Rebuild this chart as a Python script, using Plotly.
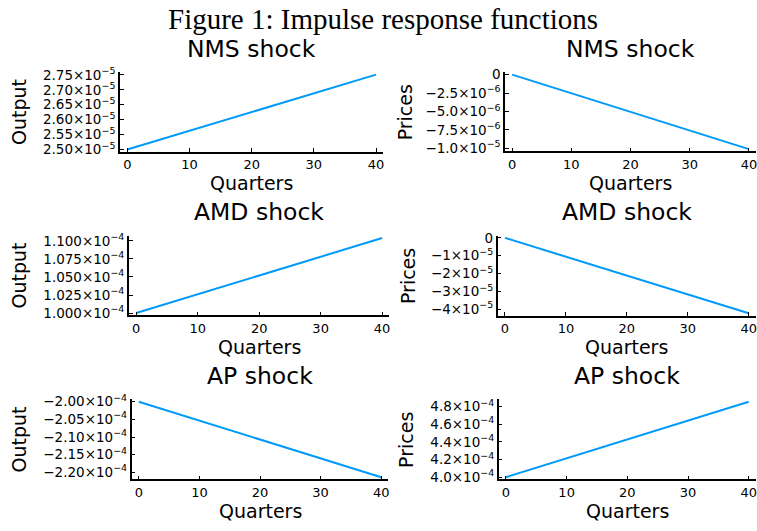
import plotly.graph_objects as go

# ---------------- data ----------------
quarters = [0, 40]

nms_output = [2.500e-5, 2.751e-5]
nms_prices = [0.0, -1.012e-5]
amd_output = [1.000e-4, 1.104e-4]
amd_prices = [0.0, -4.22e-5]
ap_output = [-2.000e-4, -2.214e-4]
ap_prices = [4.000e-4, 4.855e-4]

x_tickvals = [0, 10, 20, 30, 40]
x_ticktext = ["0", "10", "20", "30", "40"]

nms_out_tickvals = [2.50e-5, 2.55e-5, 2.60e-5, 2.65e-5, 2.70e-5, 2.75e-5]
nms_out_ticktext = ["2.50×10<sup>−5</sup>", "2.55×10<sup>−5</sup>", "2.60×10<sup>−5</sup>",
                    "2.65×10<sup>−5</sup>", "2.70×10<sup>−5</sup>", "2.75×10<sup>−5</sup>"]
nms_pri_tickvals = [0.0, -2.5e-6, -5.0e-6, -7.5e-6, -1.0e-5]
nms_pri_ticktext = ["0", "−2.5×10<sup>−6</sup>", "−5.0×10<sup>−6</sup>",
                    "−7.5×10<sup>−6</sup>", "−1.0×10<sup>−5</sup>"]
amd_out_tickvals = [1.000e-4, 1.025e-4, 1.050e-4, 1.075e-4, 1.100e-4]
amd_out_ticktext = ["1.000×10<sup>−4</sup>", "1.025×10<sup>−4</sup>", "1.050×10<sup>−4</sup>",
                    "1.075×10<sup>−4</sup>", "1.100×10<sup>−4</sup>"]
amd_pri_tickvals = [0.0, -1e-5, -2e-5, -3e-5, -4e-5]
amd_pri_ticktext = ["0", "−1×10<sup>−5</sup>", "−2×10<sup>−5</sup>",
                    "−3×10<sup>−5</sup>", "−4×10<sup>−5</sup>"]
ap_out_tickvals = [-2.00e-4, -2.05e-4, -2.10e-4, -2.15e-4, -2.20e-4]
ap_out_ticktext = ["−2.00×10<sup>−4</sup>", "−2.05×10<sup>−4</sup>", "−2.10×10<sup>−4</sup>",
                   "−2.15×10<sup>−4</sup>", "−2.20×10<sup>−4</sup>"]
ap_pri_tickvals = [4.0e-4, 4.2e-4, 4.4e-4, 4.6e-4, 4.8e-4]
ap_pri_ticktext = ["4.0×10<sup>−4</sup>", "4.2×10<sup>−4</sup>", "4.4×10<sup>−4</sup>",
                   "4.6×10<sup>−4</sup>", "4.8×10<sup>−4</sup>"]

titles = ["NMS shock", "NMS shock", "AMD shock", "AMD shock", "AP shock", "AP shock"]
ylabels = ["Output", "Prices", "Output", "Prices", "Output", "Prices"]
xlabel = "Quarters"
main_title = "Figure 1: Impulse response functions"

# ---------------- layout ----------------
W, H = 757, 531
def px_x(p):
    return p / W
def px_y(p):
    return 1 - p / H

# panel boxes in pixels: left, right, top, bottom
boxes = [
    (120, 384, 66, 147.3),
    (505.7, 757, 66, 147),
    (129, 390, 233.5, 315),
    (498.3, 757, 233.3, 315.3),
    (131.7, 389, 401.3, 483.3),
    (499.3, 757, 401.3, 483.3),
]
ylabel_x = [19, 405, 19, 408, 19, 407]

series = [nms_output, nms_prices, amd_output, amd_prices, ap_output, ap_prices]
ytickvals = [nms_out_tickvals, nms_pri_tickvals, amd_out_tickvals,
             amd_pri_tickvals, ap_out_tickvals, ap_pri_tickvals]
yticktext = [nms_out_ticktext, nms_pri_ticktext, amd_out_ticktext,
             amd_pri_ticktext, ap_out_ticktext, ap_pri_ticktext]

FONT = "DejaVu Sans"
BLUE = "#009AFA"

def padded(vals, f=0.03):
    lo, hi = min(vals), max(vals)
    s = hi - lo
    return [lo - f * s, hi + f * s]

fig = go.Figure()
layout = dict(
    width=W, height=H,
    margin=dict(l=0, r=0, t=0, b=0),
    paper_bgcolor="white", plot_bgcolor="white",
    showlegend=False,
    font=dict(family=FONT, color="black"),
)
annotations = []

for i in range(6):
    n = "" if i == 0 else str(i + 1)
    l, r, t, b = boxes[i]
    fig.add_trace(go.Scatter(
        x=quarters, y=series[i], mode="lines",
        line=dict(color=BLUE, width=2),
        xaxis="x" + n, yaxis="y" + n,
    ))
    axcommon = dict(
        showgrid=False, zeroline=False, showline=True,
        linecolor="black", linewidth=1.5,
        ticks="inside", ticklen=4, tickwidth=1, tickcolor="black",
        ticklabeloverflow="allow",
    )
    layout["xaxis" + n] = dict(
        axcommon, domain=[px_x(l), px_x(r)], anchor="y" + n,
        range=padded(quarters), tickmode="array",
        tickvals=x_tickvals, ticktext=x_ticktext, ticklabelstandoff=0,
        tickfont=dict(family=FONT, size=13, color="black"),
    )
    layout["yaxis" + n] = dict(
        axcommon, domain=[px_y(b), px_y(t)], anchor="x" + n,
        range=padded(series[i]), tickmode="array",
        tickvals=ytickvals[i], ticktext=yticktext[i],
        tickfont=dict(family=FONT, size=13.5, color="black"),
    )
    cx = (l + r) / 2
    cy = (t + b) / 2
    annotations.append(dict(
        text=titles[i], x=px_x(cx), y=px_y(t - 24), xref="paper", yref="paper",
        xanchor="center", yanchor="middle", showarrow=False,
        font=dict(family=FONT, size=23.5, color="black"),
    ))
    annotations.append(dict(
        text=xlabel, x=px_x(cx), y=px_y(b + 32.5), xref="paper", yref="paper",
        xanchor="center", yanchor="middle", showarrow=False,
        font=dict(family=FONT, size=19, color="black"),
    ))
    annotations.append(dict(
        text=ylabels[i], x=px_x(ylabel_x[i]), y=px_y(cy), xref="paper", yref="paper",
        xanchor="center", yanchor="middle", showarrow=False, textangle=-90,
        font=dict(family=FONT, size=19, color="black"),
    ))

annotations.append(dict(
    text=main_title, x=px_x(384), y=px_y(11), xref="paper", yref="paper",
    xanchor="center", yanchor="middle", showarrow=False,
    font=dict(family="Liberation Serif", size=29, color="black"),
))
layout["annotations"] = annotations
fig.update_layout(**layout)
fig.write_html("out.html",
               config={"displayModeBar": False},
               post_script="document.body.style.margin='0';document.body.style.overflow='hidden';")
